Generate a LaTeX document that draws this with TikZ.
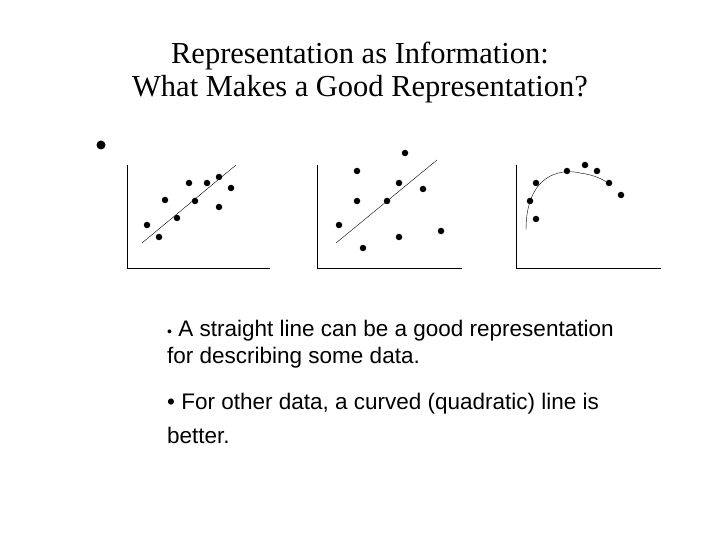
\documentclass[tikz,border=0pt]{standalone}
\usepackage{fontspec}
\setmainfont{Liberation Serif}
\newfontfamily\arial{Liberation Sans}
\begin{document}
\begin{tikzpicture}[x=1pt,y=-1pt,
  dot/.style={circle,fill=black,inner sep=0pt,minimum size=6.5pt},
  ax/.style={line width=0.9pt},
  body/.style={anchor=west,font=\arial\fontsize{22.5}{26}\selectfont,inner sep=0pt}]
\useasboundingbox (0,0) rectangle (720,540);
\node (t1) at (360,56) {\fontsize{30.5}{33}\selectfont Representation as Information:};
\node (t2) at (360,89) {\fontsize{30.5}{33}\selectfont What Makes a Good Representation?};
\node[circle,fill=black,inner sep=0pt,minimum size=9pt] (b0) at (101,145) {};
% plot 1
\draw[ax] (127,165) -- (127,268) -- (270,268);
\draw (142,243) -- (236,165);
\foreach \p in {(147,225),(159,237),(165,200),(177,218),(189,183),(195,201),(207,183),(219,177),(219,207),(231,188)} \node[dot] at \p {};
% plot 2
\draw[ax] (317,165) -- (317,268) -- (462,268);
\draw (336,243) -- (437,160);
\foreach \p in {(405,153),(357,171),(357,201),(399,183),(387,201),(423,189),(339,225),(363,248),(399,237),(441,231)} \node[dot] at \p {};
% plot 3
\draw[ax] (516,165) -- (516,268) -- (661,268);
\draw (526,230) .. controls (526,175) and (560,168) .. (580,173) .. controls (595,175) and (605,180) .. (610,185);
\foreach \p in {(536,183),(530,201),(536,219),(567,171),(585,165),(597,171),(609,183),(621,195)} \node[dot] at \p {};
% text
\node[body] (l1) at (167,331) {{\fontsize{14}{16}\selectfont\textbullet} A straight line can be a good representation};
\node[body] (l2) at (167,358) {for describing some data.};
\node[body] (l3) at (167,404) {\textbullet\ For other data, a curved (quadratic) line is};
\node[body] (l4) at (167,435) {better.};
\end{tikzpicture}
\end{document}
